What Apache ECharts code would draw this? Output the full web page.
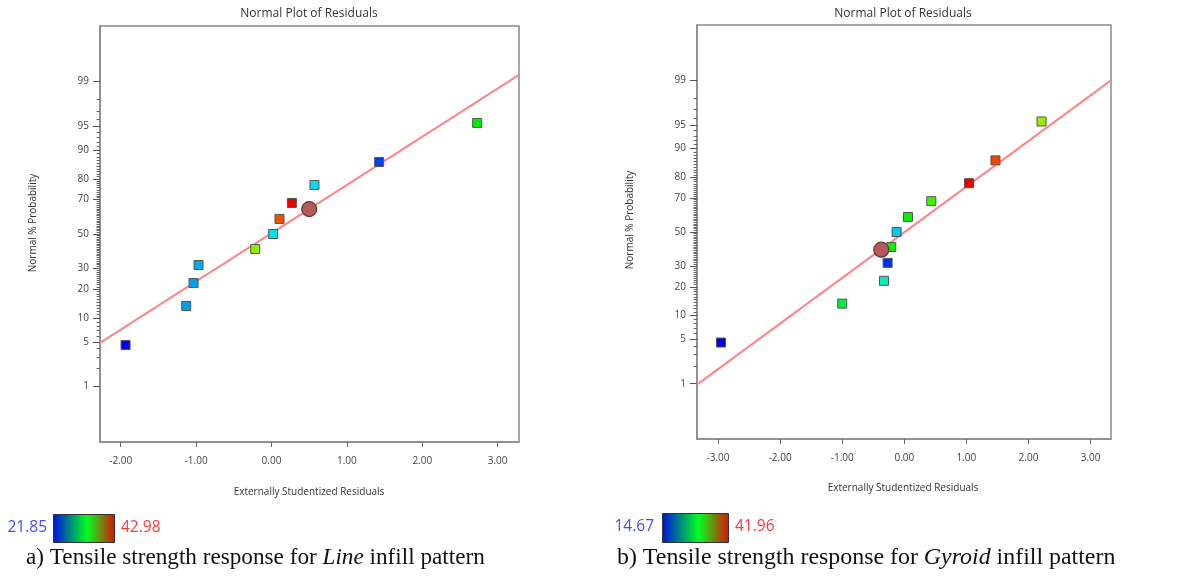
<!DOCTYPE html>
<html>
<head>
<meta charset="utf-8">
<script src="https://cdn.jsdelivr.net/npm/echarts@6/dist/echarts.min.js"></script>
<style>
html,body{margin:0;padding:0;background:#fff;}
#chart{width:1186px;height:583px;}
</style>
</head>
<body>
<div id="chart"></div>
<script>
// ---------- data ----------
// Line infill pattern
const lineResid    = [-1.936, -1.131, -1.034, -0.968, -0.216, 0.022, 0.106, 0.270, 0.570, 1.428, 2.728];
const lineProb     = [4.5, 13.6, 22.7, 31.8, 40.9, 50.0, 59.1, 68.2, 77.3, 86.4, 95.5];
const lineStrength = [21.85, 25.4, 25.4, 25.6, 35.6, 26.8, 41.2, 42.98, 26.7, 23.3, 32.4];
const lineCurrentResid = [0.50];
const lineCurrentProb  = [64.8];
const lineFitResid = [-2.275, 3.283];
const lineFitProb  = [4.83, 99.24];
const lineRange    = [21.85, 42.98];

// Gyroid infill pattern
const gyroidResid    = [-2.952, -1.000, -0.327, -0.269, -0.210, -0.124, 0.059, 0.435, 1.043, 1.468, 2.210];
const gyroidProb     = [4.5, 13.6, 22.7, 31.8, 40.9, 50.0, 59.1, 68.2, 77.3, 86.4, 95.5];
const gyroidStrength = [14.67, 26.4, 22.9, 16.0, 28.6, 20.4, 28.6, 30.2, 41.96, 40.0, 32.7];
const gyroidCurrentResid = [-0.371];
const gyroidCurrentProb  = [39.3];
const gyroidFitResid = [-3.339, 3.329];
const gyroidFitProb  = [0.96, 99.0];
const gyroidRange    = [14.67, 41.96];

// tick labels
const yTickLabels = [1, 5, 10, 20, 30, 50, 70, 80, 90, 95, 99];
const xTicksLine   = [-2, -1, 0, 1, 2, 3];
const xTicksGyroid = [-3, -2, -1, 0, 1, 2, 3];

const titleText = 'Normal Plot of Residuals';
const xName = 'Externally Studentized Residuals';
const yName = 'Normal % Probability';

// ---------- normal-probability scale ----------
function probit(p){
  const a=[-3.969683028665376e+01,2.209460984245205e+02,-2.759285104469687e+02,1.383577518672690e+02,-3.066479806614716e+01,2.506628277459239e+00];
  const b=[-5.447609879822406e+01,1.615858368580409e+02,-1.556989798598866e+02,6.680131188771972e+01,-1.328068155288572e+01];
  const c=[-7.784894002430293e-03,-3.223964580411365e-01,-2.400758277161838e+00,-2.549732539343734e+00,4.374664141464968e+00,2.938163982698783e+00];
  const d=[7.784695709041462e-03,3.224671290700398e-01,2.445134137142996e+00,3.754408661907416e+00];
  const pl=0.02425, ph=1-pl;
  if(p<pl){const q=Math.sqrt(-2*Math.log(p));return (((((c[0]*q+c[1])*q+c[2])*q+c[3])*q+c[4])*q+c[5])/((((d[0]*q+d[1])*q+d[2])*q+d[3])*q+1);}
  if(p>ph){const q=Math.sqrt(-2*Math.log(1-p));return -(((((c[0]*q+c[1])*q+c[2])*q+c[3])*q+c[4])*q+c[5])/((((d[0]*q+d[1])*q+d[2])*q+d[3])*q+1);}
  const q=p-0.5, r=q*q;
  return (((((a[0]*r+a[1])*r+a[2])*r+a[3])*r+a[4])*r+a[5])*q/(((((b[0]*r+b[1])*r+b[2])*r+b[3])*r+b[4])*r+1);
}
const z = pct => probit(pct/100);
const yMajor = yTickLabels.map(z);
const yMinor = [];
for (let k = 2; k <= 98; k++) if (yTickLabels.indexOf(k) < 0) yMinor.push(z(k));
function yLabel(v){
  let best = 0, bd = 1e9;
  yMajor.forEach((m,i)=>{ const dd=Math.abs(m-v); if(dd<bd){bd=dd;best=i;} });
  return String(yTickLabels[best]);
}

const FONT = 'Open Sans';
const ZR = 3.175;
const rainbow = ['#0000ee','#00eeee','#00ee00','#eeee00','#ee0000'];

const grids = [
  {left:100, top:26, width:419, height:416},
  {left:697, top:25, width:414, height:414}
];
const xRanges = [[-2.275, 3.283], [-3.339, 3.329]];
const xTicks = [xTicksLine, xTicksGyroid];

const xAxes = [], yAxes = [];
[0,1].forEach(i=>{
  xAxes.push({
    type:'value', gridIndex:i, position:'bottom', min:xRanges[i][0], max:xRanges[i][1],
    axisLine:{show:true, onZero:false, lineStyle:{color:'#8a8a8a', width:1.5}},
    axisTick:{show:true, length:5, customValues:xTicks[i], lineStyle:{color:'#666'}},
    axisLabel:{customValues:xTicks[i], formatter:v=>v.toFixed(2), color:'#444', fontSize:10, fontFamily:FONT, margin:14},
    splitLine:{show:false}
  });
  yAxes.push({
    type:'value', gridIndex:i, position:'left', offset:0, min:-ZR, max:ZR,
    axisLine:{show:true, onZero:false, lineStyle:{color:'#8a8a8a', width:1.5}},
    axisTick:{show:true, length:7, customValues:yMajor, lineStyle:{color:'#555'}},
    axisLabel:{customValues:yMajor, formatter:yLabel, color:'#444', fontSize:10, fontFamily:FONT, margin:11},
    splitLine:{show:false}
  });
  yAxes.push({
    type:'value', gridIndex:i, position:'left', offset:0, min:-ZR, max:ZR,
    axisLine:{show:false, onZero:false},
    axisTick:{show:true, length:3.5, customValues:yMinor, lineStyle:{color:'#666'}},
    axisLabel:{show:false},
    splitLine:{show:false}
  });
});

function pts(res, prob, str){ return res.map((r,i)=> str ? [r, z(prob[i]), str[i]] : [r, z(prob[i])]); }

const series = [];
const sets = [
  {res:lineResid, prob:lineProb, str:lineStrength, cr:lineCurrentResid, cp:lineCurrentProb, fr:lineFitResid, fp:lineFitProb},
  {res:gyroidResid, prob:gyroidProb, str:gyroidStrength, cr:gyroidCurrentResid, cp:gyroidCurrentProb, fr:gyroidFitResid, fp:gyroidFitProb}
];
sets.forEach((s,i)=>{
  series.push({
    type:'line', xAxisIndex:i, yAxisIndex:2*i, data:pts(s.fr, s.fp),
    symbol:'none', lineStyle:{color:'#ff8585', width:2}, silent:true, z:2, clip:true
  });
  series.push({
    type:'scatter', xAxisIndex:i, yAxisIndex:2*i, data:pts(s.res, s.prob, s.str),
    symbol:'rect', symbolSize:9,
    itemStyle:{borderColor:'#555', borderWidth:1, opacity:1}, z:3
  });
  series.push({
    type:'scatter', xAxisIndex:i, yAxisIndex:2*i, data:pts(s.cr, s.cp),
    symbol:'circle', symbolSize:15,
    itemStyle:{color:'#b35b5b', borderColor:'#6b3535', borderWidth:1.2, opacity:1}, z:4
  });
});

function cbar(x, y, w, h){
  return {type:'rect', shape:{x:x, y:y, width:w, height:h},
    style:{fill:new echarts.graphic.LinearGradient(0,0,1,0,[
      {offset:0,color:'#0010e0'},{offset:0.55,color:'#00ff20'},{offset:1,color:'#e01000'}]),
      stroke:'#333', lineWidth:1}};
}
function txt(x, y, t, color, size, family, align){
  return {type:'text', x:x, y:y, style:{text:t, fill:color, font:size+'px "'+family+'"', textAlign:align||'left', textVerticalAlign:'middle'}};
}

const graphic = [
  txt(309, 14, titleText, '#333', 12, FONT, 'center'),
  txt(903, 14, titleText, '#333', 12, FONT, 'center'),
  txt(309, 492, xName, '#333', 10, FONT, 'center'),
  txt(903, 488, xName, '#333', 10, FONT, 'center'),
  {type:'text', x:33, y:223, rotation:Math.PI/2, style:{text:yName, fill:'#333', font:'10px "'+FONT+'"', textAlign:'center', textVerticalAlign:'middle'}},
  {type:'text', x:630, y:220, rotation:Math.PI/2, style:{text:yName, fill:'#333', font:'10px "'+FONT+'"', textAlign:'center', textVerticalAlign:'middle'}},
  cbar(53.5, 514.5, 61, 28),
  cbar(662.5, 513.5, 66, 29),
  txt(47, 528, lineRange[0].toFixed(2), '#4848ff', 15.5, FONT, 'right'),
  txt(121, 528, lineRange[1].toFixed(2), '#ff3a3a', 15.5, FONT, 'left'),
  txt(654, 527, gyroidRange[0].toFixed(2), '#4848ff', 15.5, FONT, 'right'),
  txt(735, 527, gyroidRange[1].toFixed(2), '#ff3a3a', 15.5, FONT, 'left'),
  {type:'text', x:26, y:558, style:{
    text:'{n|a) Tensile strength response for }{i|Line}{n| infill pattern}',
    textVerticalAlign:'middle',
    rich:{n:{font:'23.2px "Liberation Serif"', fill:'#111'}, i:{font:'italic 23.2px "Liberation Serif"', fill:'#111'}}}},
  {type:'text', x:617, y:558, style:{
    text:'{n|b) Tensile strength response for }{i|Gyroid}{n| infill pattern}',
    textVerticalAlign:'middle',
    rich:{n:{font:'23.9px "Liberation Serif"', fill:'#111'}, i:{font:'italic 23.9px "Liberation Serif"', fill:'#111'}}}}
];

const option = {
  animation:false,
  backgroundColor:'#fff',
  grid: grids.map(g=>Object.assign({show:true, borderColor:'#8a8a8a', borderWidth:1.5, backgroundColor:'#fff'}, g)),
  xAxis: xAxes,
  yAxis: yAxes,
  visualMap:[
    {type:'continuous', show:false, seriesIndex:1, dimension:2, min:lineRange[0], max:lineRange[1], inRange:{color:rainbow}},
    {type:'continuous', show:false, seriesIndex:4, dimension:2, min:gyroidRange[0], max:gyroidRange[1], inRange:{color:rainbow}}
  ],
  series: series,
  graphic: graphic
};
const chart = echarts.init(document.getElementById('chart'), null, {renderer:'canvas'});
chart.setOption(option);
</script>
</body>
</html>
